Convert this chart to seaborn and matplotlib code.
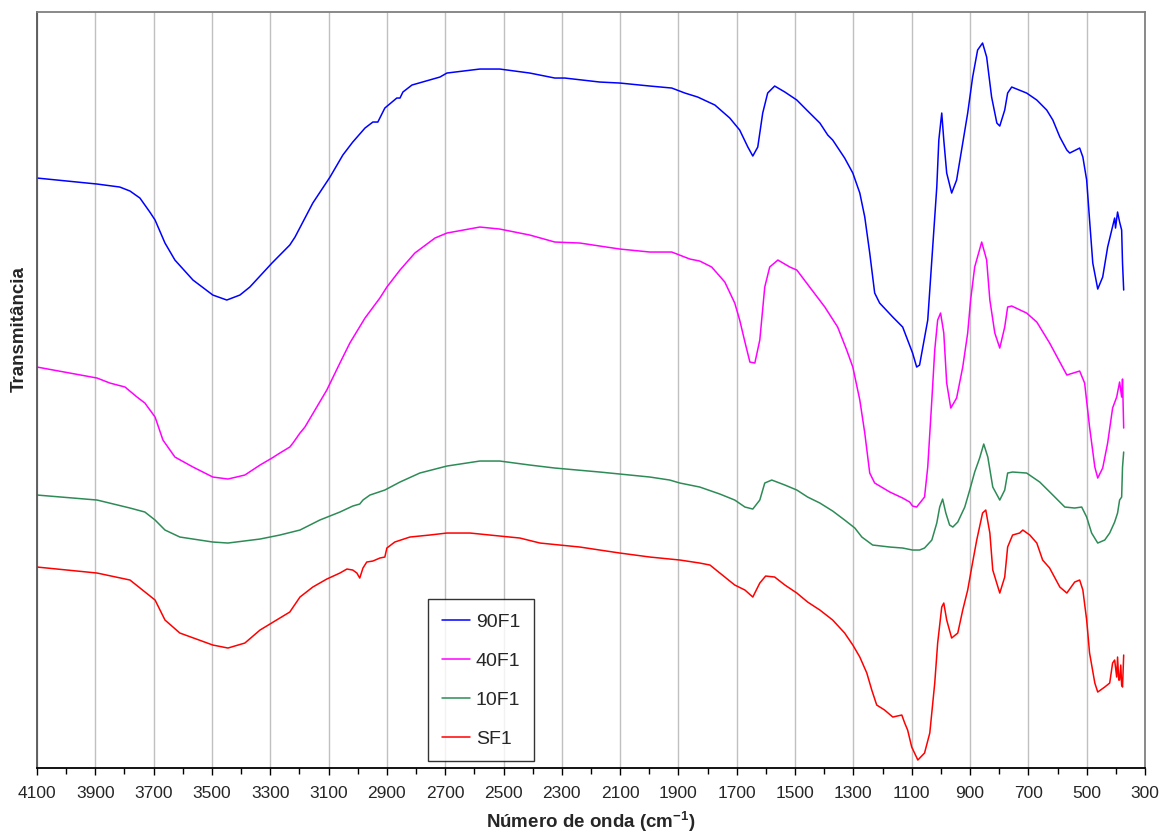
import matplotlib
matplotlib.use("Agg")
import matplotlib.pyplot as plt
import numpy as np
import pandas as pd
import seaborn as sns
from matplotlib.ticker import MultipleLocator

# values (wavenumber in cm-1, transmittance in arbitrary offset units)
wn_90 = [4100, 3894, 3816, 3781, 3747, 3713, 3695, 3661, 3627, 3565, 3497, 3449, 3404, 3370, 3294, 3233, 3215,
         3154, 3095, 3051, 3017, 2975, 2948, 2931, 2907, 2866, 2855, 2845, 2814, 2718, 2694, 2581,
         2513, 2410, 2324, 2290, 2170, 2101, 1998, 1923, 1878, 1834, 1775, 1724, 1690, 1662, 1645,
         1628, 1611, 1594, 1570, 1535, 1494, 1460, 1415, 1388, 1371, 1330, 1302, 1278, 1261, 1244,
         1227, 1210, 1165, 1131, 1097, 1083, 1073, 1045, 1028, 1014, 1007, 997, 990, 980, 963,
         946, 925, 908, 891, 874, 857, 843, 826, 808, 798, 781, 771, 757, 706, 671,
         637, 616, 592, 568, 558, 524, 513, 500, 490, 479, 462, 445, 428, 414, 404,
         401, 394, 387, 380, 377, 373]
t_90 = [590, 584, 581, 577, 570, 556, 548, 525, 508, 488, 473, 468, 473, 481, 505, 523, 531,
        565, 591, 613, 626, 640, 646, 646, 660, 670, 670, 676, 683, 691, 695, 699,
        699, 695, 690, 690, 686, 685, 682, 680, 675, 671, 663, 650, 638, 621, 612,
        621, 655, 675, 682, 676, 668, 658, 645, 633, 628, 610, 595, 575, 551, 515,
        475, 465, 451, 441, 415, 401, 403, 448, 521, 581, 628, 655, 628, 595, 575,
        588, 625, 655, 691, 718, 725, 711, 671, 645, 642, 658, 675, 681, 675, 668,
        658, 648, 631, 618, 615, 620, 611, 588, 548, 505, 479, 491, 521, 538, 550,
        540, 556, 546, 538, 505, 478]

wn_40 = [4100, 3894, 3850, 3798, 3757, 3730, 3695, 3668, 3627, 3565, 3497, 3445, 3387, 3335, 3294,
         3267, 3233, 3222, 3198, 3181, 3106, 3061, 3027, 2975, 2924, 2900, 2855, 2804, 2735, 2694,
         2581, 2513, 2410, 2324, 2238, 2170, 2101, 1998, 1923, 1861, 1827, 1786, 1741, 1707, 1690,
         1672, 1655, 1638, 1621, 1604, 1587, 1559, 1518, 1494, 1450, 1398, 1354, 1323, 1302, 1278,
         1261, 1244, 1227, 1175, 1131, 1107, 1097, 1083, 1056, 1045, 1031, 1021, 1011, 1001, 990,
         980, 966, 946, 925, 908, 898, 884, 860, 843, 832, 815, 798, 781, 771, 757,
         706, 671, 627, 592, 568, 524, 507, 490, 472, 462, 445, 428, 411, 397, 387,
         380, 377, 373]
t_40 = [401, 390, 385, 381, 371, 365, 351, 328, 311, 301, 291, 289, 293, 303, 310,
        315, 321, 325, 335, 341, 378, 405, 425, 450, 470, 481, 498, 515, 530, 535,
        541, 539, 533, 526, 525, 522, 519, 516, 516, 509, 507, 501, 486, 465, 448,
        426, 406, 405, 428, 481, 501, 508, 501, 498, 481, 461, 441, 418, 401, 368,
        335, 295, 285, 276, 270, 266, 262, 261, 271, 301, 368, 418, 448, 455, 435,
        385, 360, 370, 401, 435, 468, 501, 526, 508, 468, 435, 420, 441, 461, 462,
        455, 446, 425, 406, 393, 397, 385, 341, 301, 290, 300, 325, 360, 371, 386,
        371, 389, 340]

wn_10 = [4100, 3894, 3781, 3730, 3695, 3661, 3610, 3497, 3445, 3335, 3267, 3198, 3130, 3061, 3017,
         2993, 2982, 2958, 2907, 2855, 2787, 2694, 2581, 2513, 2410, 2324, 2170, 2101, 1998, 1930,
         1895, 1827, 1758, 1707, 1672, 1645, 1621, 1604, 1580, 1535, 1494, 1457, 1415, 1371, 1330,
         1295, 1271, 1234, 1175, 1131, 1097, 1073, 1056, 1031, 1014, 1004, 994, 983, 970, 959,
         942, 918, 901, 884, 867, 853, 839, 822, 798, 781, 771, 754, 706, 661, 616,
         575, 541, 517, 500, 483, 462, 438, 421, 404, 394, 387, 380, 377, 373]
t_10 = [273, 268, 260, 256, 248, 238, 231, 226, 225, 229, 233, 238, 248, 256, 262,
        264, 268, 273, 278, 286, 295, 302, 307, 307, 303, 300, 296, 294, 291, 288,
        285, 281, 274, 268, 261, 259, 268, 285, 288, 283, 278, 271, 265, 257, 248,
        240, 231, 223, 221, 220, 218, 218, 220, 228, 245, 261, 269, 255, 243, 241,
        246, 261, 278, 296, 310, 324, 311, 281, 268, 278, 295, 296, 295, 286, 273,
        261, 260, 261, 251, 235, 225, 228, 235, 246, 255, 268, 271, 301, 316]

wn_s = [4100, 3894, 3781, 3695, 3661, 3610, 3497, 3445, 3387, 3335, 3233, 3198, 3154, 3106, 3061,
        3037, 3017, 3003, 2993, 2982, 2969, 2948, 2924, 2907, 2900, 2873, 2821, 2753, 2694, 2615,
        2513, 2444, 2375, 2307, 2238, 2170, 2101, 1998, 1895, 1827, 1792, 1758, 1707, 1672, 1645,
        1621, 1601, 1570, 1535, 1494, 1457, 1415, 1371, 1330, 1302, 1278, 1254, 1237, 1220, 1193,
        1165, 1134, 1124, 1114, 1100, 1079, 1056, 1038, 1021, 1011, 997, 990, 980, 963, 942,
        925, 908, 894, 877, 857, 846, 832, 822, 798, 781, 771, 754, 730, 719, 695,
        671, 651, 627, 592, 568, 541, 524, 513, 500, 490, 472, 462, 438, 421, 411,
        404, 397, 394, 390, 387, 383, 380, 377, 373]
t_s = [201, 195, 188, 168, 148, 135, 123, 120, 125, 138, 156, 171, 181, 189, 195,
       199, 198, 195, 190, 200, 206, 207, 210, 211, 220, 226, 231, 233, 235, 235,
       232, 230, 225, 223, 221, 218, 215, 211, 208, 205, 203, 195, 183, 178, 171,
       185, 192, 191, 183, 175, 166, 158, 148, 135, 123, 111, 95, 78, 63, 58,
       51, 53, 45, 38, 21, 8, 15, 35, 85, 125, 161, 165, 148, 130, 135,
       158, 178, 201, 228, 255, 258, 235, 198, 175, 191, 221, 233, 235, 238, 233,
       225, 208, 200, 181, 175, 186, 188, 178, 148, 115, 85, 76, 81, 85, 105,
       108, 91, 111, 88, 88, 103, 83, 81, 113]

labels = ["90F1", "40F1", "10F1", "SF1"]
colors = ["#0000ff", "#ff00ff", "#2e8b57", "#ff0000"]
x_ticks = list(range(4100, 299, -200))

frames = []
for lab, x, y in zip(labels, [wn_90, wn_40, wn_10, wn_s], [t_90, t_40, t_10, t_s]):
    frames.append(pd.DataFrame({"wn": x, "T": y, "amostra": lab}))
df = pd.concat(frames, ignore_index=True)

sns.set_style("white")
plt.rcParams["font.family"] = ["Liberation Sans", "DejaVu Sans"]
plt.rcParams["mathtext.fontset"] = "custom"
plt.rcParams["mathtext.bf"] = "Liberation Sans:bold"
plt.rcParams["mathtext.rm"] = "Liberation Sans"

fig, ax = plt.subplots(figsize=(11.63, 8.36), dpi=100)
fig.subplots_adjust(left=0.0318, right=0.9845, top=0.9856, bottom=0.0813)

sns.lineplot(data=df, x="wn", y="T", hue="amostra", palette=colors, hue_order=labels,
             estimator=None, linewidth=1.1, ax=ax)

ax.set_xlim(4100, 300)
ax.set_ylim(0, 756)
ax.set_xticks(x_ticks)
ax.xaxis.set_minor_locator(MultipleLocator(100))
ax.set_yticks([])
ax.grid(True, axis="x", which="major", color="#c0c0c0", linewidth=1)
ax.tick_params(axis="x", which="major", direction="out", length=5, width=1, color="black",
               labelsize=12.5, pad=8, bottom=True)
ax.tick_params(axis="x", which="minor", direction="out", length=4, width=1, color="black", bottom=True)

ax.spines["bottom"].set_color("black")
ax.spines["left"].set_color("#555555")
ax.spines["top"].set_color("#808080")
ax.spines["right"].set_color("#808080")
for s in ax.spines.values():
    s.set_linewidth(1.3)

ax.set_xlabel(r"Número de onda (cm$^{\mathbf{-1}}$)", fontsize=13.5, fontweight="bold", labelpad=6)
ax.set_ylabel("Transmitância", fontsize=13.5, fontweight="bold")
ax.yaxis.set_label_coords(-0.008, 0.58)

leg = ax.legend(title=None, loc="upper left", bbox_to_anchor=(0.353, 0.223), frameon=True,
                fancybox=False, edgecolor="black", fontsize=14, labelspacing=1.1,
                handlelength=1.45, handletextpad=0.3, borderpad=0.7, borderaxespad=0)
leg.get_frame().set_linewidth(1.0)

fig.savefig("out.png", dpi=100)
